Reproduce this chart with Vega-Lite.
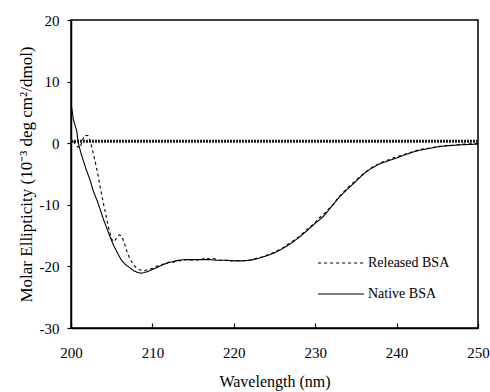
{
  "$schema": "https://vega.github.io/schema/vega-lite/v6.json",
  "width": 407,
  "height": 308,
  "autosize": {"type": "none"},
  "padding": {"left": 71, "top": 20, "right": 12, "bottom": 64},
  "background": "white",
  "view": {"stroke": "black", "strokeWidth": 1.5},
  "datasets": {
    "cd": [
      {"series": "Native BSA", "wl": 200.0, "v": 6.5},
      {"series": "Native BSA", "wl": 200.3, "v": 3.8},
      {"series": "Native BSA", "wl": 200.7, "v": 2.0},
      {"series": "Native BSA", "wl": 200.9, "v": 0.0},
      {"series": "Native BSA", "wl": 201.2, "v": -1.5},
      {"series": "Native BSA", "wl": 201.5, "v": -2.8},
      {"series": "Native BSA", "wl": 201.9, "v": -4.4},
      {"series": "Native BSA", "wl": 202.3, "v": -5.8},
      {"series": "Native BSA", "wl": 202.7, "v": -7.6},
      {"series": "Native BSA", "wl": 203.2, "v": -9.3},
      {"series": "Native BSA", "wl": 203.6, "v": -10.8},
      {"series": "Native BSA", "wl": 204.0, "v": -12.4},
      {"series": "Native BSA", "wl": 204.4, "v": -13.8},
      {"series": "Native BSA", "wl": 204.8, "v": -15.2},
      {"series": "Native BSA", "wl": 205.2, "v": -16.5},
      {"series": "Native BSA", "wl": 205.7, "v": -17.8},
      {"series": "Native BSA", "wl": 206.2, "v": -19.0},
      {"series": "Native BSA", "wl": 206.7, "v": -19.7},
      {"series": "Native BSA", "wl": 207.2, "v": -20.2},
      {"series": "Native BSA", "wl": 207.7, "v": -20.7},
      {"series": "Native BSA", "wl": 208.2, "v": -21.0},
      {"series": "Native BSA", "wl": 208.6, "v": -21.1},
      {"series": "Native BSA", "wl": 209.0, "v": -21.0},
      {"series": "Native BSA", "wl": 209.5, "v": -20.8},
      {"series": "Native BSA", "wl": 210.0, "v": -20.5},
      {"series": "Native BSA", "wl": 210.5, "v": -20.2},
      {"series": "Native BSA", "wl": 211.0, "v": -19.9},
      {"series": "Native BSA", "wl": 211.5, "v": -19.6},
      {"series": "Native BSA", "wl": 212.0, "v": -19.4},
      {"series": "Native BSA", "wl": 212.6, "v": -19.2},
      {"series": "Native BSA", "wl": 213.2, "v": -19.0},
      {"series": "Native BSA", "wl": 214.0, "v": -18.9},
      {"series": "Native BSA", "wl": 215.0, "v": -18.9},
      {"series": "Native BSA", "wl": 216.0, "v": -18.9},
      {"series": "Native BSA", "wl": 217.0, "v": -18.9},
      {"series": "Native BSA", "wl": 218.0, "v": -19.0},
      {"series": "Native BSA", "wl": 219.0, "v": -19.0},
      {"series": "Native BSA", "wl": 220.0, "v": -19.1},
      {"series": "Native BSA", "wl": 221.0, "v": -19.1},
      {"series": "Native BSA", "wl": 222.0, "v": -19.0},
      {"series": "Native BSA", "wl": 223.0, "v": -18.7},
      {"series": "Native BSA", "wl": 224.0, "v": -18.3},
      {"series": "Native BSA", "wl": 225.0, "v": -17.8},
      {"series": "Native BSA", "wl": 226.0, "v": -17.1},
      {"series": "Native BSA", "wl": 227.0, "v": -16.3},
      {"series": "Native BSA", "wl": 228.0, "v": -15.3},
      {"series": "Native BSA", "wl": 229.0, "v": -14.2},
      {"series": "Native BSA", "wl": 230.0, "v": -13.0},
      {"series": "Native BSA", "wl": 231.0, "v": -11.9},
      {"series": "Native BSA", "wl": 232.0, "v": -10.3},
      {"series": "Native BSA", "wl": 233.0, "v": -8.7},
      {"series": "Native BSA", "wl": 234.0, "v": -7.4},
      {"series": "Native BSA", "wl": 235.0, "v": -6.2},
      {"series": "Native BSA", "wl": 236.0, "v": -4.9},
      {"series": "Native BSA", "wl": 237.0, "v": -4.0},
      {"series": "Native BSA", "wl": 238.0, "v": -3.3},
      {"series": "Native BSA", "wl": 239.0, "v": -2.85},
      {"series": "Native BSA", "wl": 240.0, "v": -2.4},
      {"series": "Native BSA", "wl": 241.0, "v": -1.9},
      {"series": "Native BSA", "wl": 242.0, "v": -1.45},
      {"series": "Native BSA", "wl": 243.0, "v": -1.1},
      {"series": "Native BSA", "wl": 244.0, "v": -0.85},
      {"series": "Native BSA", "wl": 245.0, "v": -0.6},
      {"series": "Native BSA", "wl": 246.0, "v": -0.45},
      {"series": "Native BSA", "wl": 247.0, "v": -0.35},
      {"series": "Native BSA", "wl": 248.0, "v": -0.25},
      {"series": "Native BSA", "wl": 249.0, "v": -0.2},
      {"series": "Native BSA", "wl": 250.0, "v": -0.15},
      {"series": "Released BSA", "wl": 200.3, "v": 0.3},
      {"series": "Released BSA", "wl": 200.7, "v": -0.5},
      {"series": "Released BSA", "wl": 201.1, "v": -0.8},
      {"series": "Released BSA", "wl": 201.4, "v": 0.5},
      {"series": "Released BSA", "wl": 201.7, "v": 1.3},
      {"series": "Released BSA", "wl": 202.1, "v": 1.2},
      {"series": "Released BSA", "wl": 202.4, "v": 0.2},
      {"series": "Released BSA", "wl": 202.8, "v": -2.0},
      {"series": "Released BSA", "wl": 203.2, "v": -4.4},
      {"series": "Released BSA", "wl": 203.5, "v": -6.5},
      {"series": "Released BSA", "wl": 203.8, "v": -8.6},
      {"series": "Released BSA", "wl": 204.1, "v": -10.5},
      {"series": "Released BSA", "wl": 204.4, "v": -12.4},
      {"series": "Released BSA", "wl": 204.7, "v": -14.2},
      {"series": "Released BSA", "wl": 205.0, "v": -15.6},
      {"series": "Released BSA", "wl": 205.3, "v": -16.0},
      {"series": "Released BSA", "wl": 205.6, "v": -15.4},
      {"series": "Released BSA", "wl": 205.9, "v": -14.9},
      {"series": "Released BSA", "wl": 206.2, "v": -15.0},
      {"series": "Released BSA", "wl": 206.5, "v": -16.0},
      {"series": "Released BSA", "wl": 206.8, "v": -17.3},
      {"series": "Released BSA", "wl": 207.2, "v": -18.7},
      {"series": "Released BSA", "wl": 207.6, "v": -19.6},
      {"series": "Released BSA", "wl": 208.0, "v": -20.2},
      {"series": "Released BSA", "wl": 208.5, "v": -20.6},
      {"series": "Released BSA", "wl": 209.0, "v": -20.7},
      {"series": "Released BSA", "wl": 209.5, "v": -20.5},
      {"series": "Released BSA", "wl": 210.0, "v": -20.3},
      {"series": "Released BSA", "wl": 210.5, "v": -20.0},
      {"series": "Released BSA", "wl": 211.0, "v": -19.7},
      {"series": "Released BSA", "wl": 211.5, "v": -19.6},
      {"series": "Released BSA", "wl": 212.0, "v": -19.3},
      {"series": "Released BSA", "wl": 212.5, "v": -19.4},
      {"series": "Released BSA", "wl": 213.0, "v": -19.0},
      {"series": "Released BSA", "wl": 213.5, "v": -19.1},
      {"series": "Released BSA", "wl": 214.0, "v": -18.9},
      {"series": "Released BSA", "wl": 215.0, "v": -19.0},
      {"series": "Released BSA", "wl": 216.0, "v": -18.9},
      {"series": "Released BSA", "wl": 216.5, "v": -18.6},
      {"series": "Released BSA", "wl": 217.0, "v": -18.8},
      {"series": "Released BSA", "wl": 217.5, "v": -18.7},
      {"series": "Released BSA", "wl": 218.0, "v": -19.0},
      {"series": "Released BSA", "wl": 219.0, "v": -19.0},
      {"series": "Released BSA", "wl": 219.5, "v": -19.2},
      {"series": "Released BSA", "wl": 220.0, "v": -19.0},
      {"series": "Released BSA", "wl": 221.0, "v": -19.1},
      {"series": "Released BSA", "wl": 222.0, "v": -19.0},
      {"series": "Released BSA", "wl": 223.0, "v": -18.6},
      {"series": "Released BSA", "wl": 223.5, "v": -18.5},
      {"series": "Released BSA", "wl": 224.0, "v": -18.2},
      {"series": "Released BSA", "wl": 225.0, "v": -17.7},
      {"series": "Released BSA", "wl": 226.0, "v": -17.0},
      {"series": "Released BSA", "wl": 227.0, "v": -16.1},
      {"series": "Released BSA", "wl": 228.0, "v": -15.2},
      {"series": "Released BSA", "wl": 229.0, "v": -14.0},
      {"series": "Released BSA", "wl": 230.0, "v": -12.9},
      {"series": "Released BSA", "wl": 230.5, "v": -12.1},
      {"series": "Released BSA", "wl": 231.0, "v": -11.6},
      {"series": "Released BSA", "wl": 232.0, "v": -10.2},
      {"series": "Released BSA", "wl": 233.0, "v": -8.6},
      {"series": "Released BSA", "wl": 234.0, "v": -7.2},
      {"series": "Released BSA", "wl": 235.0, "v": -6.0},
      {"series": "Released BSA", "wl": 236.0, "v": -4.9},
      {"series": "Released BSA", "wl": 237.0, "v": -3.9},
      {"series": "Released BSA", "wl": 238.0, "v": -3.2},
      {"series": "Released BSA", "wl": 239.0, "v": -2.7},
      {"series": "Released BSA", "wl": 240.0, "v": -2.2},
      {"series": "Released BSA", "wl": 241.0, "v": -1.8},
      {"series": "Released BSA", "wl": 242.0, "v": -1.35},
      {"series": "Released BSA", "wl": 243.0, "v": -1.0},
      {"series": "Released BSA", "wl": 244.0, "v": -0.8},
      {"series": "Released BSA", "wl": 245.0, "v": -0.55},
      {"series": "Released BSA", "wl": 246.0, "v": -0.4},
      {"series": "Released BSA", "wl": 247.0, "v": -0.3},
      {"series": "Released BSA", "wl": 248.0, "v": -0.15},
      {"series": "Released BSA", "wl": 249.0, "v": -0.1},
      {"series": "Released BSA", "wl": 250.0, "v": -0.05}
    ]
  },
  "layer": [
    {
      "data": {"values": [{"zero": 0.3}]},
      "mark": {"type": "rule", "color": "#222222", "strokeWidth": 3, "strokeDash": [2, 1]},
      "encoding": {
        "y": {"field": "zero", "type": "quantitative"}
      }
    },
    {
      "data": {"name": "cd"},
      "mark": {"type": "line", "color": "black", "strokeWidth": 1.1, "clip": true},
      "encoding": {
        "x": {
          "field": "wl", "type": "quantitative",
          "scale": {"domain": [200, 250], "nice": false, "zero": false},
          "axis": {
            "values": [200, 210, 220, 230, 240, 250],
            "labelExpr": "'' + datum.value",
            "grid": false,
            "domainColor": "black",
            "domainWidth": 1.5,
            "tickColor": "black",
            "tickWidth": 1.2,
            "tickSize": -5,
            "labelFont": "Liberation Serif",
            "labelFontWeight": 400,
            "labelFontSize": 15,
            "labelColor": "black",
            "labelFlush": false,
            "labelOverlap": false,
            "labelPadding": 22,
            "title": "Wavelength (nm)",
            "titleFont": "Liberation Serif",
            "titleFontWeight": 400,
            "titleColor": "black",
            "titleFontSize": 16,
            "titlePadding": 13
          }
        },
        "y": {
          "field": "v", "type": "quantitative",
          "scale": {"domain": [-30, 20], "nice": false, "zero": false},
          "axis": {
            "values": [-30, -20, -10, 0, 10, 20],
            "labelExpr": "'' + datum.value",
            "grid": false,
            "domainColor": "black",
            "domainWidth": 1.5,
            "tickColor": "black",
            "tickWidth": 1.2,
            "tickSize": 4,
            "labelFont": "Liberation Serif",
            "labelFontWeight": 400,
            "labelFontSize": 15,
            "labelColor": "black",
            "labelFlush": false,
            "labelOverlap": false,
            "labelPadding": 8,
            "title": "Molar Ellipticity (10⁻³ deg cm²/dmol)",
            "titleFont": "Liberation Serif",
            "titleFontWeight": 400,
            "titleColor": "black",
            "titleFontSize": 17,
            "titlePadding": 4
          }
        },
        "strokeDash": {
          "field": "series", "type": "nominal",
          "scale": {"domain": ["Released BSA", "Native BSA"], "range": [[3, 3], [1, 0]]},
          "legend": {
            "title": null,
            "orient": "none",
            "legendX": 246,
            "legendY": 219,
            "symbolType": "stroke",
            "symbolSize": 2100,
            "symbolStrokeColor": "black",
            "symbolStrokeWidth": 1.2,
            "labelOffset": 3,
            "rowPadding": 0,
            "labelFont": "Liberation Serif",
            "labelFontWeight": 400,
            "labelFontSize": 14,
            "labelColor": "black"
          }
        }
      }
    }
  ]
}
